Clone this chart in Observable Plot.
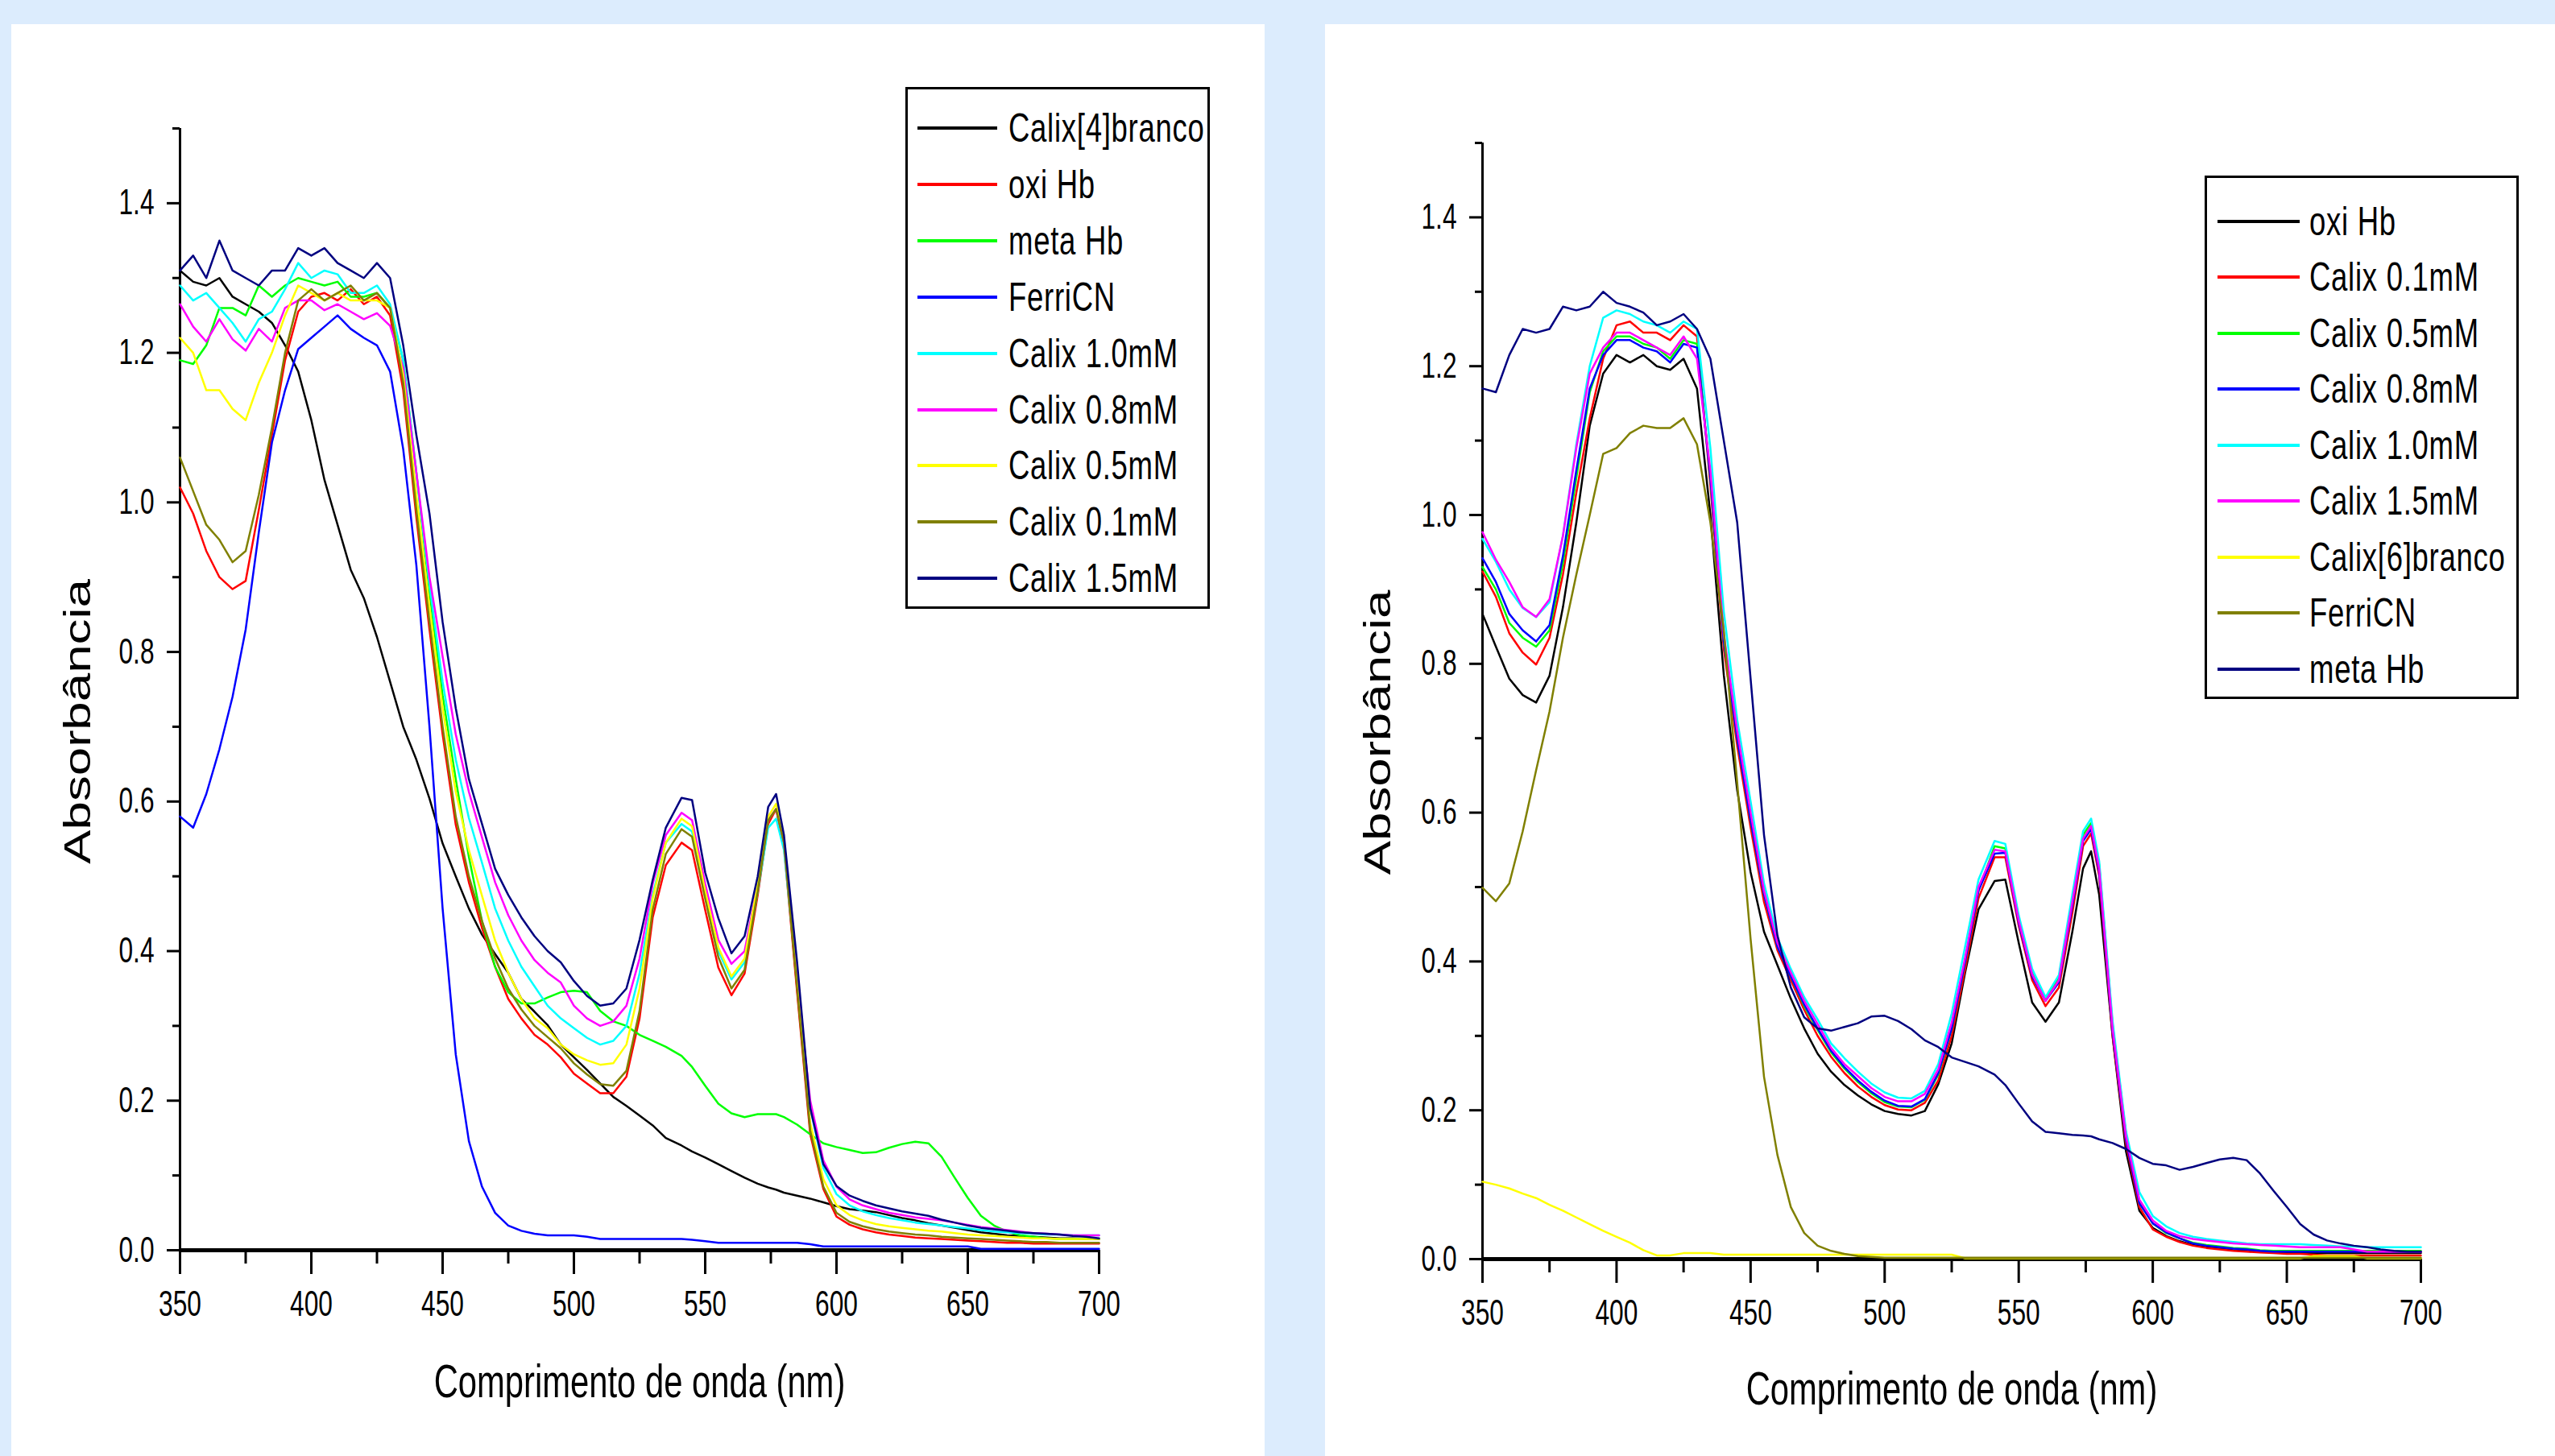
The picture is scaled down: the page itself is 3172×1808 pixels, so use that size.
<!DOCTYPE html>
<html>
<head>
<meta charset="utf-8">
<script src="https://cdn.jsdelivr.net/npm/d3@7"></script>
<script src="https://cdn.jsdelivr.net/npm/@observablehq/plot@0.6"></script>
<style>
  html, body { margin: 0; padding: 0; }
  body { width: 3172px; height: 1808px; background: #dcecfd; position: relative; overflow: hidden; }
  .panel { position: absolute; top: 30px; height: 1778px; background: #ffffff; }
  .legend { position: absolute; border: 3px solid #000; background: #fff; box-sizing: border-box; }
  .row { position: absolute; left: 0; height: 60px; display: flex; align-items: center; white-space: nowrap; }
  .swatch { height: 4px; flex: none; }
  .label { display: inline-block; font-family: 'Liberation Sans', Arial, Helvetica, sans-serif; font-size: 50px; letter-spacing: 1px; transform: scaleX(0.73); transform-origin: left center; color: #000; }
</style>
</head>
<body>
<div id="left" class="panel" style="left:14px;width:1556px"></div>
<div id="right" class="panel" style="left:1645px;width:1527px"></div>
<script>
// ---------- wavelengths (nm) ----------
const wl = [
  350,355,360,365,370,375,380,385,390,395,
  400,405,410,415,420,425,430,435,440,445,
  450,455,460,465,470,475,480,485,490,495,
  500,505,510,515,520,525,530,535,
  541,545,550,555,560,565,570,574,577,580,
  585,590,595,600,605,610,615,620,625,630,
  635,640,645,650,655,660,665,670,675,680,685,690,695,700
];

// ---------- LEFT panel series ----------
const L_branco4 = [
  1.31,1.295,1.29,1.30,1.275,1.265,1.255,1.24,1.21,1.175,
  1.11,1.03,0.97,0.91,0.872,0.82,0.76,0.70,0.656,0.604,
  0.544,0.50,0.457,0.422,0.396,0.371,0.336,0.319,0.301,0.275,
  0.258,0.241,0.223,0.205,0.193,0.18,0.167,0.15,
  0.14,0.132,0.124,0.115,0.106,0.097,0.089,0.084,0.081,0.077,
  0.073,0.069,0.064,0.059,0.055,0.053,0.051,0.047,0.043,0.04,
  0.036,0.033,0.03,0.027,0.024,0.022,0.02,0.019,0.018,0.017,0.016,0.016,0.015,0.015
];
const L_oxiHb = [
  1.02,0.985,0.935,0.90,0.884,0.895,0.99,1.09,1.19,1.255,
  1.275,1.28,1.27,1.285,1.265,1.275,1.25,1.15,0.98,0.83,
  0.69,0.569,0.492,0.431,0.379,0.336,0.31,0.288,0.275,0.258,
  0.236,0.223,0.21,0.21,0.232,0.31,0.445,0.515,
  0.545,0.535,0.455,0.378,0.341,0.37,0.475,0.57,0.59,0.54,
  0.345,0.155,0.082,0.045,0.034,0.028,0.024,0.021,0.019,0.017,
  0.016,0.015,0.014,0.013,0.012,0.011,0.01,0.01,0.009,0.009,0.009,0.009,0.009,0.009
];
const L_metaHb = [
  1.19,1.185,1.21,1.26,1.26,1.25,1.29,1.275,1.29,1.30,
  1.295,1.29,1.295,1.275,1.275,1.28,1.26,1.19,1.04,0.88,
  0.742,0.63,0.526,0.44,0.379,0.345,0.33,0.33,0.338,0.345,
  0.347,0.345,0.32,0.306,0.30,0.288,0.28,0.272,
  0.26,0.245,0.22,0.196,0.183,0.178,0.182,0.182,0.182,0.178,
  0.168,0.155,0.143,0.138,0.134,0.13,0.131,0.137,0.142,0.145,
  0.143,0.125,0.097,0.07,0.046,0.033,0.025,0.02,0.018,0.016,0.015,0.015,0.015,0.015
];
const L_ferriCN = [
  0.58,0.565,0.61,0.67,0.74,0.83,0.96,1.08,1.15,1.205,
  1.22,1.235,1.25,1.232,1.22,1.21,1.175,1.071,0.916,0.70,
  0.457,0.262,0.146,0.085,0.05,0.033,0.026,0.022,0.02,0.02,
  0.02,0.018,0.015,0.015,0.015,0.015,0.015,0.015,
  0.015,0.014,0.012,0.01,0.01,0.01,0.01,0.01,0.01,0.01,
  0.01,0.008,0.005,0.005,0.005,0.005,0.005,0.005,0.005,0.005,
  0.005,0.005,0.005,0.005,0.002,0.002,0.002,0.002,0.002,0.002,0.002,0.002,0.002,0.002
];
const L_calix10 = [
  1.29,1.27,1.28,1.26,1.24,1.215,1.245,1.255,1.285,1.32,
  1.30,1.31,1.305,1.28,1.28,1.29,1.265,1.19,1.04,0.89,
  0.76,0.656,0.578,0.518,0.457,0.414,0.379,0.353,0.327,0.31,
  0.297,0.284,0.275,0.28,0.30,0.37,0.475,0.545,
  0.57,0.56,0.475,0.40,0.362,0.385,0.48,0.565,0.577,0.535,
  0.36,0.19,0.11,0.075,0.06,0.052,0.047,0.043,0.04,0.037,
  0.035,0.033,0.031,0.029,0.027,0.025,0.024,0.023,0.022,0.021,0.021,0.02,0.02,0.02
];
const L_calix08 = [
  1.265,1.235,1.215,1.245,1.218,1.203,1.232,1.215,1.26,1.27,
  1.27,1.257,1.265,1.255,1.245,1.253,1.236,1.18,1.04,0.90,
  0.794,0.69,0.613,0.552,0.492,0.448,0.414,0.388,0.371,0.358,
  0.327,0.31,0.30,0.306,0.327,0.39,0.49,0.555,
  0.585,0.575,0.49,0.415,0.383,0.40,0.49,0.575,0.59,0.545,
  0.36,0.20,0.12,0.085,0.068,0.06,0.055,0.05,0.047,0.044,
  0.042,0.04,0.037,0.034,0.031,0.029,0.027,0.025,0.023,0.022,0.021,0.02,0.02,0.02
];
const L_calix05 = [
  1.22,1.20,1.15,1.15,1.125,1.11,1.16,1.20,1.25,1.29,
  1.28,1.27,1.28,1.27,1.27,1.27,1.26,1.17,1.01,0.86,
  0.725,0.613,0.535,0.474,0.414,0.371,0.336,0.31,0.297,0.275,
  0.262,0.254,0.248,0.25,0.275,0.35,0.47,0.545,
  0.577,0.567,0.48,0.405,0.366,0.39,0.49,0.58,0.597,0.55,
  0.355,0.17,0.095,0.06,0.047,0.04,0.035,0.032,0.03,0.028,
  0.026,0.025,0.023,0.021,0.02,0.019,0.018,0.017,0.016,0.016,0.015,0.015,0.015,0.015
];
const L_calix01 = [
  1.06,1.015,0.97,0.95,0.92,0.935,1.01,1.10,1.20,1.27,
  1.285,1.27,1.28,1.29,1.27,1.28,1.26,1.16,0.99,0.84,
  0.70,0.58,0.50,0.44,0.39,0.35,0.322,0.30,0.285,0.27,
  0.25,0.235,0.222,0.22,0.24,0.32,0.455,0.53,
  0.563,0.553,0.47,0.392,0.35,0.375,0.48,0.575,0.59,0.545,
  0.35,0.16,0.085,0.05,0.038,0.032,0.028,0.025,0.023,0.021,
  0.02,0.018,0.017,0.016,0.015,0.014,0.013,0.012,0.011,0.011,0.01,0.01,0.01,0.01
];
const L_calix15 = [
  1.31,1.33,1.30,1.35,1.31,1.30,1.29,1.31,1.31,1.34,
  1.33,1.34,1.32,1.31,1.30,1.32,1.30,1.21,1.09,0.985,
  0.84,0.725,0.63,0.57,0.51,0.475,0.445,0.42,0.40,0.385,
  0.36,0.34,0.327,0.33,0.35,0.415,0.495,0.565,
  0.605,0.602,0.505,0.444,0.397,0.42,0.50,0.593,0.61,0.555,
  0.385,0.19,0.115,0.086,0.073,0.066,0.06,0.056,0.052,0.049,
  0.046,0.041,0.037,0.033,0.03,0.028,0.026,0.024,0.023,0.022,0.021,0.019,0.018,0.016
];
const leftNames  = ["Calix[4]branco","oxi Hb","meta Hb","FerriCN","Calix 1.0mM","Calix 0.8mM","Calix 0.5mM","Calix 0.1mM","Calix 1.5mM"];
const leftColors = ["#000000","#ff0000","#00ff00","#0000ff","#00ffff","#ff00ff","#ffff00","#808000","#000080"];
const leftSeries = [L_branco4, L_oxiHb, L_metaHb, L_ferriCN, L_calix10, L_calix08, L_calix05, L_calix01, L_calix15];

// ---------- RIGHT panel series ----------
const R_oxiHb = [
  0.867,0.823,0.78,0.758,0.748,0.784,0.876,0.99,1.12,1.19,
  1.215,1.205,1.215,1.20,1.195,1.21,1.17,1.0,0.785,0.63,
  0.52,0.44,0.395,0.35,0.31,0.276,0.252,0.234,0.22,0.208,
  0.199,0.195,0.193,0.199,0.235,0.29,0.385,0.47,
  0.508,0.51,0.425,0.345,0.319,0.345,0.44,0.525,0.548,0.49,
  0.30,0.145,0.065,0.042,0.031,0.024,0.019,0.016,0.014,0.012,
  0.011,0.01,0.009,0.009,0.009,0.008,0.008,0.008,0.008,0.008,0.008,0.008,0.008,0.008
];
const R_calix01 = [
  0.924,0.89,0.841,0.815,0.799,0.835,0.92,1.03,1.13,1.21,
  1.255,1.26,1.245,1.245,1.235,1.255,1.24,1.04,0.82,0.69,
  0.58,0.48,0.415,0.375,0.335,0.30,0.272,0.25,0.232,0.218,
  0.207,0.201,0.20,0.21,0.24,0.30,0.39,0.485,
  0.54,0.54,0.448,0.375,0.34,0.365,0.465,0.555,0.572,0.515,
  0.30,0.155,0.07,0.04,0.03,0.023,0.018,0.015,0.013,0.011,
  0.01,0.009,0.008,0.007,0.007,0.006,0.005,0.005,0.005,0.005,0.005,0.005,0.005,0.005
];
const R_calix05 = [
  0.93,0.90,0.855,0.835,0.823,0.845,0.935,1.05,1.165,1.22,
  1.24,1.24,1.23,1.225,1.21,1.235,1.23,1.05,0.83,0.70,
  0.59,0.49,0.42,0.38,0.34,0.308,0.278,0.256,0.238,0.223,
  0.211,0.205,0.204,0.214,0.248,0.31,0.40,0.495,
  0.555,0.552,0.458,0.385,0.348,0.378,0.485,0.57,0.586,0.53,
  0.315,0.168,0.076,0.048,0.035,0.028,0.022,0.019,0.017,0.015,
  0.014,0.012,0.011,0.011,0.011,0.011,0.011,0.011,0.011,0.011,0.011,0.011,0.011,0.011
];
const R_calix08 = [
  0.942,0.91,0.867,0.845,0.83,0.852,0.945,1.06,1.17,1.215,
  1.235,1.235,1.225,1.22,1.205,1.23,1.225,1.05,0.83,0.70,
  0.59,0.49,0.42,0.38,0.342,0.31,0.28,0.258,0.24,0.225,
  0.213,0.206,0.205,0.215,0.25,0.31,0.40,0.495,
  0.545,0.546,0.452,0.38,0.347,0.372,0.475,0.562,0.578,0.52,
  0.305,0.16,0.075,0.048,0.036,0.028,0.021,0.018,0.016,0.014,
  0.013,0.011,0.01,0.01,0.01,0.01,0.01,0.01,0.01,0.01,0.01,0.01,0.01,0.01
];
const R_calix10 = [
  0.968,0.937,0.90,0.875,0.863,0.883,0.972,1.095,1.20,1.265,
  1.275,1.27,1.26,1.255,1.245,1.26,1.25,1.09,0.87,0.725,
  0.615,0.505,0.432,0.39,0.352,0.322,0.29,0.27,0.252,0.236,
  0.224,0.217,0.216,0.226,0.262,0.33,0.42,0.51,
  0.562,0.558,0.462,0.39,0.352,0.382,0.49,0.575,0.592,0.535,
  0.32,0.172,0.09,0.058,0.044,0.035,0.03,0.027,0.025,0.023,
  0.021,0.02,0.02,0.02,0.02,0.019,0.018,0.017,0.017,0.016,0.016,0.016,0.016,0.016
];
const R_calix15 = [
  0.977,0.94,0.91,0.876,0.863,0.887,0.972,1.09,1.19,1.225,
  1.245,1.245,1.235,1.225,1.215,1.24,1.21,1.06,0.84,0.71,
  0.60,0.495,0.425,0.385,0.347,0.316,0.284,0.262,0.246,0.23,
  0.218,0.212,0.212,0.222,0.255,0.318,0.405,0.50,
  0.55,0.548,0.455,0.383,0.347,0.375,0.48,0.565,0.582,0.525,
  0.31,0.165,0.08,0.052,0.038,0.031,0.027,0.025,0.023,0.021,
  0.02,0.019,0.018,0.017,0.016,0.016,0.016,0.016,0.013,0.01,0.01,0.01,0.01,0.01
];
const R_branco6 = [
  0.104,0.1,0.095,0.088,0.082,0.073,0.065,0.056,0.047,0.038,
  0.03,0.022,0.012,0.005,0.005,0.008,0.008,0.008,0.006,0.006,
  0.006,0.006,0.006,0.006,0.006,0.006,0.006,0.006,0.006,0.006,
  0.006,0.006,0.006,0.006,0.006,0.006,0.001,0.001,
  0.001,0.001,0.001,0.001,0.001,0.001,0.001,0.001,0.001,0.001,
  0.001,0.001,0.001,0.001,0.001,0.001,0.001,0.001,0.001,0.001,
  0.001,0.001,0.001,0.001,0.001,0.004,0.004,0.004,0.004,0.001,0.001,0.001,0.001,0.001
];
const R_ferriCN = [
  0.499,0.481,0.505,0.575,0.657,0.736,0.835,0.92,1.0,1.082,
  1.09,1.11,1.12,1.117,1.117,1.13,1.095,0.99,0.845,0.64,
  0.43,0.245,0.14,0.07,0.035,0.018,0.011,0.007,0.004,0.003,
  0.002,0.002,0.002,0.002,0.002,0.002,0.002,0.002,
  0.002,0.002,0.002,0.002,0.002,0.002,0.002,0.002,0.002,0.002,
  0.002,0.002,0.002,0.002,0.002,0.002,0.002,0.002,0.002,0.002,
  0.002,0.002,0.002,0.002,0.002,0.002,0.002,0.002,0.002,0.002,0.002,0.002,0.002,0.002
];
const R_metaHb = [
  1.17,1.165,1.215,1.25,1.245,1.25,1.28,1.275,1.28,1.30,
  1.285,1.28,1.272,1.255,1.26,1.27,1.25,1.21,1.10,0.99,
  0.78,0.57,0.435,0.365,0.325,0.31,0.307,0.312,0.317,0.326,
  0.327,0.32,0.309,0.294,0.285,0.271,0.265,0.259,
  0.248,0.234,0.209,0.185,0.171,0.169,0.167,0.166,0.165,0.161,
  0.156,0.148,0.136,0.128,0.126,0.12,0.124,0.129,0.134,0.136,
  0.133,0.115,0.092,0.07,0.047,0.033,0.025,0.021,0.018,0.016,0.013,0.011,0.01,0.01
];
const rightNames  = ["oxi Hb","Calix 0.1mM","Calix 0.5mM","Calix 0.8mM","Calix 1.0mM","Calix 1.5mM","Calix[6]branco","FerriCN","meta Hb"];
const rightColors = ["#000000","#ff0000","#00ff00","#0000ff","#00ffff","#ff00ff","#ffff00","#808000","#000080"];
const rightSeries = [R_oxiHb, R_calix01, R_calix05, R_calix08, R_calix10, R_calix15, R_branco6, R_ferriCN, R_metaHb];

// ---------- ticks & labels ----------
const xMajor = [350,400,450,500,550,600,650,700];
const xMinor = [375,425,475,525,575,625,675];
const yMajor = [0,0.2,0.4,0.6,0.8,1.0,1.2,1.4];
const yMinor = [0.1,0.3,0.5,0.7,0.9,1.1,1.3,1.5];
const xTitle = "Comprimento de onda (nm)";
const yTitle = "Absorbância";

const FONT = "'Liberation Sans', Arial, Helvetica, sans-serif";

function drawPanel(cfg) {
  const lines = cfg.series.map((vals, k) =>
    Plot.line(wl, {x: d => d, y: (d, i) => vals[i], stroke: cfg.colors[k], strokeWidth: 2.5})
  );
  const svg = Plot.plot({
    width: cfg.width, height: 1778,
    marginLeft: cfg.m[0], marginRight: cfg.m[1], marginTop: cfg.m[2], marginBottom: cfg.m[3],
    x: {domain: [350, 700]},
    y: {domain: [0, 1.5]},
    style: {fontFamily: FONT, fontSize: "44px", background: "white", color: "black", overflow: "visible"},
    marks: [
      Plot.axisX({ticks: xMajor, tickSize: 30, tickPadding: 20, strokeWidth: 3, label: null, tickFormat: d => String(d)}),
      Plot.axisX({ticks: xMinor, tickSize: 17, strokeWidth: 3, label: null, tickFormat: () => ""}),
      Plot.axisY({ticks: yMajor, tickSize: 16, tickPadding: 16, strokeWidth: 3, label: null, tickFormat: d => d.toFixed(1)}),
      Plot.axisY({ticks: yMinor, tickSize: 9, strokeWidth: 3, label: null, tickFormat: () => ""}),
      Plot.ruleX([350], {y1: 0, y2: 1.5, strokeWidth: 3}),
      Plot.ruleY([0], {x1: 350, x2: 700, strokeWidth: 5}),
      ...lines,
      Plot.text([xTitle], {text: d => d, frameAnchor: "bottom", dy: cfg.xdy, fontSize: 58}),
      Plot.text([yTitle], {text: d => d, frameAnchor: "left", textAnchor: "middle", dx: cfg.ydx, dy: cfg.ydy, rotate: -90, fontSize: 46})
    ]
  });
  cfg.el.appendChild(svg);
  // horizontally condensed text, as in the reference
  svg.querySelectorAll("text").forEach(t => {
    const s = t.textContent;
    if (!s) return;
    const len = t.getComputedTextLength();
    if (!(len > 0)) return;
    if (s === yTitle) {
      const tr = t.getAttribute("transform") || "";
      t.setAttribute("transform", tr + " scale(" + (354 / len).toFixed(4) + ",1)");
    } else {
      t.setAttribute("textLength", (len * 0.72).toFixed(1));
      t.setAttribute("lengthAdjust", "spacingAndGlyphs");
    }
  });
}

drawPanel({el: document.getElementById("left"), width: 1556, m: [209, 206, 129, 256],
  series: leftSeries, colors: leftColors, xdy: 182, ydx: -126, ydy: 40});
drawPanel({el: document.getElementById("right"), width: 1527, m: [195, 167, 147, 245],
  series: rightSeries, colors: rightColors, xdy: 180, ydx: -129, ydy: 39});

function drawLegend(b, names, colors) {
  const box = document.createElement("div");
  box.className = "legend";
  Object.assign(box.style, {left: b.x + "px", top: b.y + "px", width: b.w + "px", height: b.h + "px"});
  names.forEach((name, k) => {
    const row = document.createElement("div");
    row.className = "row";
    row.style.top = (b.first + k * b.step - 30 - 3) + "px";
    const sw = document.createElement("div");
    sw.className = "swatch";
    sw.style.background = colors[k];
    sw.style.marginLeft = (b.sx - 3) + "px";
    sw.style.width = b.sw + "px";
    const tx = document.createElement("span");
    tx.className = "label";
    tx.textContent = name;
    tx.style.marginLeft = (b.tx - b.sx - b.sw) + "px";
    row.appendChild(sw);
    row.appendChild(tx);
    box.appendChild(row);
  });
  document.body.appendChild(box);
}
drawLegend({x: 1124, y: 108, w: 378, h: 648, first: 51, step: 69.9, sx: 15, sw: 99, tx: 128}, leftNames, leftColors);
drawLegend({x: 2737, y: 218, w: 390, h: 650, first: 56.6, step: 69.5, sx: 16, sw: 102, tx: 130}, rightNames, rightColors);
</script>
</body>
</html>
